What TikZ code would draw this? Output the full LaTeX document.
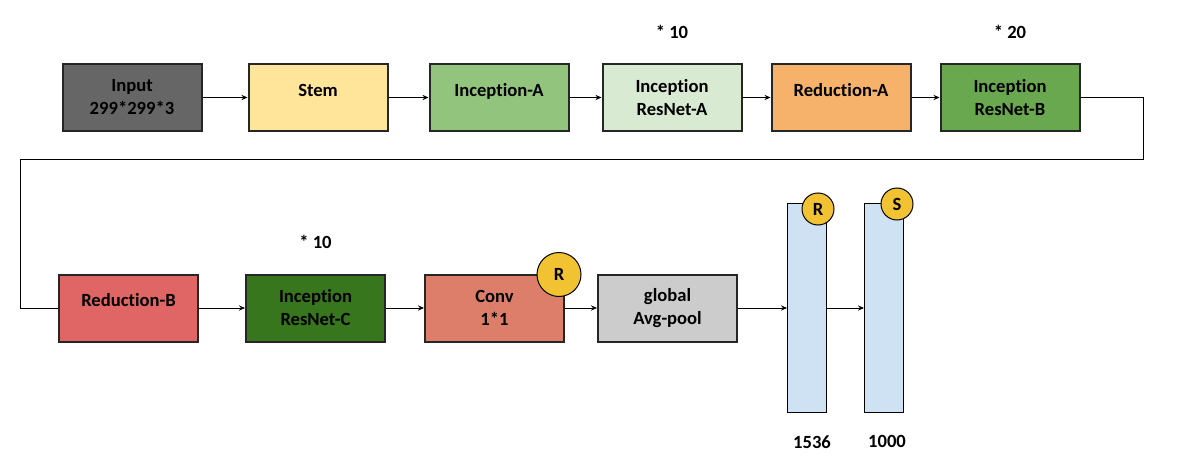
\documentclass[tikz,border=0pt]{standalone}
\usepackage{fontspec}
\setmainfont{Carlito}[Ligatures=NoCommon]
\usetikzlibrary{positioning,arrows.meta}
\definecolor{inputgray}{HTML}{666666}
\definecolor{stemyellow}{HTML}{FFE599}
\definecolor{incagreen}{HTML}{93C47D}
\definecolor{resalight}{HTML}{D9EAD3}
\definecolor{redaorange}{HTML}{F6B26B}
\definecolor{resbgreen}{HTML}{6AA84F}
\definecolor{redbred}{HTML}{E06666}
\definecolor{rescdark}{HTML}{38761D}
\definecolor{convred}{HTML}{DD7E6B}
\definecolor{poolgray}{HTML}{CCCCCC}
\definecolor{fcblue}{HTML}{CFE2F3}
\definecolor{actyellow}{HTML}{F1C232}

\begin{document}
\begin{tikzpicture}[x=0.5pt,y=-0.5pt,
    font=\fontsize{9.3}{11.5}\selectfont\bfseries,
    >={Stealth[length=3pt,width=2.6pt]},
    blk/.style={draw=black!85, line width=1pt, minimum width=69.5pt, minimum height=33.5pt, inner sep=0pt, align=center},
    one/.style={text height=6.5pt, text depth=7.7pt},
    fc/.style={draw, line width=0.5pt, fill=fcblue, minimum width=19.5pt, minimum height=104.5pt, inner sep=0pt},
    act/.style={circle, draw, line width=0.5pt, fill=actyellow, inner sep=0pt},
    rep/.style={inner sep=0pt},
    edge/.style={->, line width=0.5pt}]
    \useasboundingbox (0,0) rectangle (1199,460);

    \node[blk, fill=inputgray] (in) at (132,97.5) {Input\\299*299*3};
    \node[blk, one, fill=stemyellow, right=22.5pt of in] (stem) {Stem};
    \node[blk, one, fill=incagreen, right=20pt of stem] (incA) {Inception-A};
    \node[blk, fill=resalight, right=16pt of incA] (resA) {Inception\\ResNet-A};
    \node[blk, one, fill=redaorange, right=14pt of resA] (redA) {Reduction-A};
    \node[blk, fill=resbgreen, right=14pt of redA] (resB) {Inception\\ResNet-B};

    \node[blk, one, fill=redbred] (redB) at (128.5,308) {Reduction-B};
    \node[blk, fill=rescdark, right=23pt of redB] (resC) {Inception\\ResNet-C};
    \node[blk, fill=convred, right=19pt of resC] (conv) {Conv\\1*1};
    \node[blk, fill=poolgray, right=16pt of conv] (pool) {global\\Avg-pool};
    \node[fc, right=24.5pt of pool] (fc1) {};
    \node[fc, right=18.5pt of fc1] (fc2) {};

    \node[act, minimum size=22pt] (convR) at ([xshift=-3pt,yshift=-0.5pt]conv.north east) {R};
    \node[act, minimum size=16pt] (fc1R) at ([xshift=-4.5pt,yshift=-3pt]fc1.north east) {R};
    \node[act, minimum size=16pt] (fc2S) at ([xshift=-3.5pt,yshift=-0.5pt]fc2.north east) {S};

    \node[rep, above=12pt of resA] (resAn) {* 10};
    \node[rep, above=12pt of resB] (resBn) {* 20};
    \node[rep, above=12pt of resC] (resCn) {* 10};
    \node[rep, below=11pt of fc1, xshift=2.5pt] (fc1n) {1536};
    \node[rep, below=11pt of fc2, xshift=1.5pt] (fc2n) {1000};

    \coordinate (wrapR) at (1143,159);
    \coordinate (wrapL) at (20,159);

    \foreach \a/\b in {in/stem, stem/incA, incA/resA, resA/redA, redA/resB, redB/resC, resC/conv, conv/pool, pool/fc1, fc1/fc2}
        \draw[edge] (\a) -- (\b);
    \draw[line width=0.5pt] (resB.east) -| (wrapR) -- (wrapL) |- (redB.west);
\end{tikzpicture}
\end{document}
